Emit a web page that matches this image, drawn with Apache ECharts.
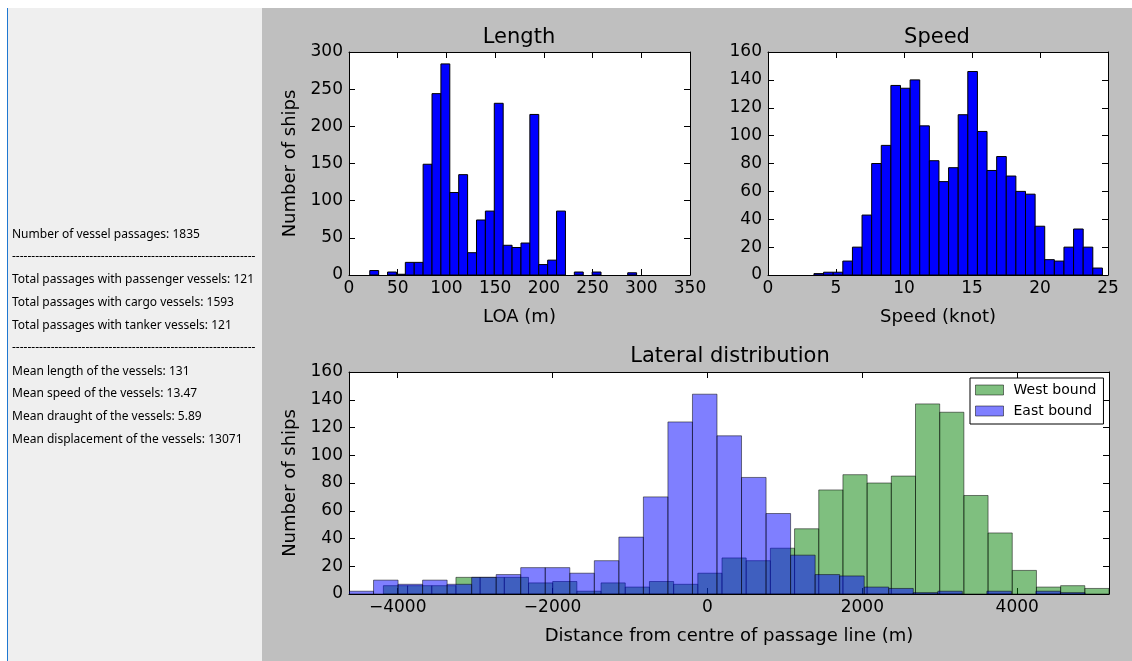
<!DOCTYPE html>
<html>
<head>
<meta charset="utf-8">
<script src="https://cdn.jsdelivr.net/npm/echarts@6/dist/echarts.min.js"></script>
<style>
html,body{margin:0;padding:0;background:#fff;}
#chart{width:1132px;height:661px;}
</style>
</head>
<body>
<div id="chart"></div>
<script>
// ---------------- data ----------------
// Length histogram (LOA, m): 30 equal bins between data min and max
const lengthRange = [21.3, 295.2];
const lengthCounts = [6, 0, 4, 1, 17, 17, 149, 244, 284, 111, 135, 30, 74, 86, 231, 40, 37, 43, 216, 14, 20, 86, 0, 4, 0, 4, 0, 0, 0, 3];

// Speed histogram (knot): 30 equal bins
const speedRange = [3.38, 24.59];
const speedCounts = [1, 2, 2, 10, 20, 43, 80, 93, 136, 134, 140, 107, 82, 67, 77, 115, 146, 103, 75, 85, 71, 60, 58, 35, 11, 10, 20, 33, 20, 5];

// Lateral distribution (m from centre of passage line): 30 equal bins per direction
const westRange = [-4185, 5185];
const westCounts = [6, 6, 6, 12, 12, 12, 8, 9, 2, 8, 5, 9, 7, 15, 26, 24, 33, 47, 75, 86, 80, 85, 137, 131, 71, 44, 17, 5, 6, 4];
const eastRange = [-4629, 4875];
const eastCounts = [2, 10, 7, 10, 7, 12, 14, 19, 19, 15, 24, 41, 70, 124, 144, 114, 84, 58, 28, 14, 13, 5, 4, 1, 2, 0, 2, 0, 2, 1];

const seriesNames = ['West bound', 'East bound'];
const lateralTicks = [-4000, -2000, 0, 2000, 4000];

const infoLines = [
  'Number of vessel passages: 1835',
  '---------------------------------------------------------------',
  'Total passages with passenger vessels: 121',
  'Total passages with cargo vessels: 1593',
  'Total passages with tanker vessels: 121',
  '---------------------------------------------------------------',
  'Mean length of the vessels: 131',
  'Mean speed of the vessels: 13.47',
  'Mean draught of the vessels: 5.89',
  'Mean displacement of the vessels: 13071'
];

// ---------------- helpers ----------------
function histData(range, counts) {
  const n = counts.length, w = (range[1] - range[0]) / n;
  return counts.map((c, i) => [range[0] + i * w, range[0] + (i + 1) * w, c]);
}
function histRender(fill, stroke) {
  return function (params, api) {
    const x0 = api.value(0), x1 = api.value(1), h = api.value(2);
    if (!h) return null;
    const a = api.coord([x0, h]);
    const b = api.coord([x1, 0]);
    return {
      type: 'rect',
      shape: { x: a[0], y: a[1], width: b[0] - a[0], height: b[1] - a[1] },
      style: { fill: fill, stroke: stroke, lineWidth: 1 }
    };
  };
}
const FONT = 'DejaVu Sans';
const axisLine = { show: true, onZero: false, lineStyle: { color: '#000', width: 1 } };
const tick = { show: true, inside: true, length: 6, lineStyle: { color: '#000', width: 1 } };
const labelStyle = { color: '#000', fontFamily: FONT, fontSize: 17 };
const minusFmt = v => (v < 0 ? '\u2212' + Math.abs(v) : String(v));

function xPair(gridIndex, min, max, interval, name, custom) {
  const main = {
    type: 'value', gridIndex, position: 'bottom', min, max, interval,
    axisLine, axisTick: Object.assign({}, tick, custom ? { customValues: custom } : {}),
    splitLine: { show: false },
    axisLabel: Object.assign({ show: true, margin: 5, formatter: minusFmt }, labelStyle, custom ? { customValues: custom } : {}),
    name, nameLocation: 'middle', nameGap: 33,
    nameTextStyle: { color: '#000', fontFamily: FONT, fontSize: 18 }
  };
  const mirror = {
    type: 'value', gridIndex, position: 'top', min, max, interval,
    axisLine, axisTick: Object.assign({}, tick, custom ? { customValues: custom } : {}),
    splitLine: { show: false }, axisLabel: { show: false }
  };
  return [main, mirror];
}
function yPair(gridIndex, min, max, interval, name) {
  const main = {
    type: 'value', gridIndex, position: 'left', min, max, interval,
    axisLine, axisTick: tick, splitLine: { show: false },
    axisLabel: Object.assign({ show: true, margin: 6 }, labelStyle),
    name: name || '', nameLocation: 'middle', nameGap: 50,
    nameTextStyle: { color: '#000', fontFamily: FONT, fontSize: 18 }
  };
  const mirror = {
    type: 'value', gridIndex, position: 'right', min, max, interval,
    axisLine, axisTick: tick, splitLine: { show: false }, axisLabel: { show: false }
  };
  return [main, mirror];
}

// ---------------- chart ----------------
const chart = echarts.init(document.getElementById('chart'), null, { renderer: 'canvas' });

const graphicEls = [
  { type: 'rect', z: -100, silent: true, shape: { x: 8, y: 8, width: 254, height: 653 }, style: { fill: '#efefef' } },
  { type: 'rect', z: -100, silent: true, shape: { x: 7, y: 8, width: 1, height: 653 }, style: { fill: '#1f78d1' } },
  { type: 'rect', z: -100, silent: true, shape: { x: 262, y: 8, width: 870, height: 653 }, style: { fill: '#bfbfbf' } }
];
const infoY = [235, 257, 280, 303, 326, 348, 372, 394, 417, 440];
infoLines.forEach((t, i) => {
  graphicEls.push({
    type: 'text', z: 10, silent: true,
    style: { text: t, x: 12, y: infoY[i], fill: '#000', fontSize: 12, fontFamily: 'Noto Sans', verticalAlign: 'middle' }
  });
});

const titleStyle = { color: '#000', fontFamily: FONT, fontSize: 21, fontWeight: 'normal' };

const option = {
  backgroundColor: '#ffffff',
  animation: false,
  graphic: { elements: graphicEls },
  title: [
    { text: 'Length', left: 519, top: 27, textAlign: 'center', padding: 0, textStyle: titleStyle },
    { text: 'Speed', left: 937, top: 27, textAlign: 'center', padding: 0, textStyle: titleStyle },
    { text: 'Lateral distribution', left: 730, top: 346, textAlign: 'center', padding: 0, textStyle: titleStyle }
  ],
  legend: {
    data: [
      { name: seriesNames[0], icon: 'rect', itemStyle: { color: 'rgba(0,128,0,0.5)', borderColor: 'rgba(0,0,0,0.5)', borderWidth: 1 } },
      { name: seriesNames[1], icon: 'rect', itemStyle: { color: 'rgba(0,0,255,0.5)', borderColor: 'rgba(0,0,0,0.5)', borderWidth: 1 } }
    ],
    orient: 'vertical', left: 970, top: 378,
    itemWidth: 28, itemHeight: 10, itemGap: 7,
    padding: [5, 7, 6, 5],
    backgroundColor: '#fff', borderColor: '#000', borderWidth: 1, borderRadius: 0,
    textStyle: { color: '#000', fontFamily: FONT, fontSize: 14, lineHeight: 14, padding: [0, 0, 0, 5] },
    selectedMode: false
  },
  grid: [
    { left: 349, top: 52, width: 341, height: 223, show: true, backgroundColor: '#fff', borderWidth: 0 },
    { left: 768, top: 52, width: 340, height: 223, show: true, backgroundColor: '#fff', borderWidth: 0 },
    { left: 349, top: 372, width: 760, height: 222, show: true, backgroundColor: '#fff', borderWidth: 0 }
  ],
  xAxis: [
    ...xPair(0, 0, 350, 50, 'LOA (m)'),
    ...xPair(1, 0, 25, 5, 'Speed (knot)'),
    ...xPair(2, eastRange[0], westRange[1], null, 'Distance from centre of passage line (m)', lateralTicks)
  ],
  yAxis: [
    ...yPair(0, 0, 300, 50, 'Number of ships'),
    ...yPair(1, 0, 160, 20, ''),
    ...yPair(2, 0, 160, 20, 'Number of ships')
  ],
  series: [
    {
      type: 'custom', name: 'Length', xAxisIndex: 0, yAxisIndex: 0,
      renderItem: histRender('#0000ff', '#000'), encode: { x: [0, 1], y: 2 },
      data: histData(lengthRange, lengthCounts), clip: true
    },
    {
      type: 'custom', name: 'Speed', xAxisIndex: 2, yAxisIndex: 2,
      renderItem: histRender('#0000ff', '#000'), encode: { x: [0, 1], y: 2 },
      data: histData(speedRange, speedCounts), clip: true
    },
    {
      type: 'custom', name: seriesNames[0], xAxisIndex: 4, yAxisIndex: 4,
      itemStyle: { color: 'rgba(0,128,0,0.5)' },
      renderItem: histRender('rgba(0,128,0,0.5)', 'rgba(0,0,0,0.5)'), encode: { x: [0, 1], y: 2 },
      data: histData(westRange, westCounts), clip: true
    },
    {
      type: 'custom', name: seriesNames[1], xAxisIndex: 4, yAxisIndex: 4,
      itemStyle: { color: 'rgba(0,0,255,0.5)' },
      renderItem: histRender('rgba(0,0,255,0.5)', 'rgba(0,0,0,0.5)'), encode: { x: [0, 1], y: 2 },
      data: histData(eastRange, eastCounts), clip: true
    }
  ]
};
chart.setOption(option);
</script>
</body>
</html>
